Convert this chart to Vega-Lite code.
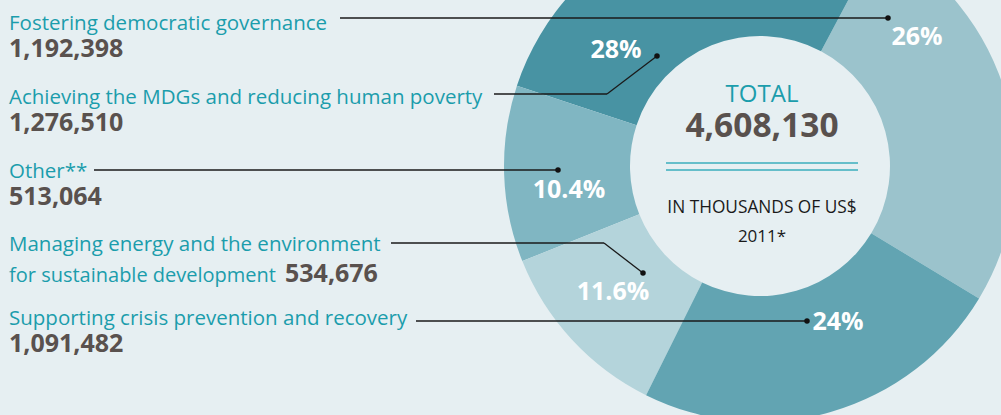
{
  "$schema": "https://vega.github.io/schema/vega-lite/v6.json",
  "width": 1001,
  "height": 415,
  "autosize": {"type": "none"},
  "padding": 0,
  "background": "#e6eff2",
  "config": {"view": {"stroke": null}, "text": {"font": "Open Sans"}},
  "datasets": {
    "segments": [
      {"cat": "Fostering", "name1": "Fostering democratic governance", "name2": "", "value": 1192398, "valueText": "1,192,398", "pct": "26%", "ord": 1},
      {"cat": "Achieving", "name1": "Achieving the MDGs and reducing human poverty", "name2": "", "value": 1276510, "valueText": "1,276,510", "pct": "28%", "ord": 5},
      {"cat": "Other", "name1": "Other**", "name2": "", "value": 513064, "valueText": "513,064", "pct": "10.4%", "ord": 4},
      {"cat": "Managing", "name1": "Managing energy and the environment", "name2": "for sustainable development", "value": 534676, "valueText": "534,676", "pct": "11.6%", "ord": 3},
      {"cat": "Crisis", "name1": "Supporting crisis prevention and recovery", "name2": "", "value": 1091482, "valueText": "1,091,482", "pct": "24%", "ord": 2}
    ]
  },
  "data": {"name": "segments"},
  "layer": [
    {
      "mark": {"type": "arc", "outerRadius": 256, "innerRadius": 130, "x": 760, "y": 166},
      "encoding": {
        "theta": {"field": "value", "type": "quantitative", "stack": true, "scale": {"range": [0.4887, 6.7719]}},
        "order": {"field": "ord", "type": "quantitative"},
        "color": {"field": "cat", "type": "nominal", "legend": null,
          "scale": {"domain": ["Fostering", "Crisis", "Managing", "Other", "Achieving"],
                    "range": ["#9bc3cc", "#62a4b2", "#b4d4db", "#80b6c2", "#4893a3"]}}
      }
    },
    {
      "mark": {"type": "text", "align": "left", "baseline": "alphabetic", "fontSize": 20.5, "color": "#1b9dac", "x": 9},
      "encoding": {
        "y": {"field": "cat", "type": "nominal", "axis": null,
          "scale": {"type": "point", "domain": ["Fostering", "Achieving", "Other", "Managing", "Crisis"], "range": [30, 325], "padding": 0}},
        "text": {"field": "name1", "type": "nominal"}
      }
    },
    {
      "transform": [{"filter": "datum.cat != 'Managing'"}],
      "mark": {"type": "text", "align": "left", "baseline": "alphabetic", "fontSize": 25, "fontWeight": "bold", "color": "#59514e", "x": 9, "dy": 27},
      "encoding": {
        "y": {"field": "cat", "type": "nominal", "axis": null},
        "text": {"field": "valueText", "type": "nominal"}
      }
    },
    {
      "transform": [{"filter": "datum.cat == 'Managing'"}],
      "mark": {"type": "text", "align": "left", "baseline": "alphabetic", "fontSize": 20, "color": "#1b9dac", "x": 9, "dy": 31},
      "encoding": {
        "y": {"field": "cat", "type": "nominal", "axis": null},
        "text": {"field": "name2", "type": "nominal"}
      }
    },
    {
      "transform": [{"filter": "datum.cat == 'Managing'"}],
      "mark": {"type": "text", "align": "left", "baseline": "alphabetic", "fontSize": 25, "fontWeight": "bold", "color": "#59514e", "x": 285, "dy": 31},
      "encoding": {
        "y": {"field": "cat", "type": "nominal", "axis": null},
        "text": {"field": "valueText", "type": "nominal"}
      }
    },
    {"data": {"values": [{}]}, "mark": {"type": "rule", "color": "#1a1a1a", "strokeWidth": 1.3},
     "encoding": {"x": {"value": 340}, "x2": {"value": 888}, "y": {"value": 18}, "y2": {"value": 18}}},
    {"data": {"values": [{}]}, "mark": {"type": "rule", "color": "#1a1a1a", "strokeWidth": 1.3},
     "encoding": {"x": {"value": 494}, "x2": {"value": 607}, "y": {"value": 94}, "y2": {"value": 94}}},
    {"data": {"values": [{}]}, "mark": {"type": "rule", "color": "#1a1a1a", "strokeWidth": 1.3},
     "encoding": {"x": {"value": 607}, "x2": {"value": 657}, "y": {"value": 94}, "y2": {"value": 56}}},
    {"data": {"values": [{}]}, "mark": {"type": "rule", "color": "#1a1a1a", "strokeWidth": 1.3},
     "encoding": {"x": {"value": 94}, "x2": {"value": 558}, "y": {"value": 170}, "y2": {"value": 170}}},
    {"data": {"values": [{}]}, "mark": {"type": "rule", "color": "#1a1a1a", "strokeWidth": 1.3},
     "encoding": {"x": {"value": 391}, "x2": {"value": 604}, "y": {"value": 243}, "y2": {"value": 243}}},
    {"data": {"values": [{}]}, "mark": {"type": "rule", "color": "#1a1a1a", "strokeWidth": 1.3},
     "encoding": {"x": {"value": 604}, "x2": {"value": 643}, "y": {"value": 243}, "y2": {"value": 273}}},
    {"data": {"values": [{}]}, "mark": {"type": "rule", "color": "#1a1a1a", "strokeWidth": 1.3},
     "encoding": {"x": {"value": 416}, "x2": {"value": 807}, "y": {"value": 321}, "y2": {"value": 321}}},
    {"data": {"values": [{}]}, "mark": {"type": "circle", "size": 30, "opacity": 1, "color": "#111111"},
     "encoding": {"x": {"value": 888}, "y": {"value": 18}}},
    {"data": {"values": [{}]}, "mark": {"type": "circle", "size": 30, "opacity": 1, "color": "#111111"},
     "encoding": {"x": {"value": 657}, "y": {"value": 56}}},
    {"data": {"values": [{}]}, "mark": {"type": "circle", "size": 30, "opacity": 1, "color": "#111111"},
     "encoding": {"x": {"value": 558}, "y": {"value": 170}}},
    {"data": {"values": [{}]}, "mark": {"type": "circle", "size": 30, "opacity": 1, "color": "#111111"},
     "encoding": {"x": {"value": 643}, "y": {"value": 273}}},
    {"data": {"values": [{}]}, "mark": {"type": "circle", "size": 30, "opacity": 1, "color": "#111111"},
     "encoding": {"x": {"value": 807}, "y": {"value": 321}}},
    {"transform": [{"filter": "datum.cat == 'Fostering'"}],
     "mark": {"type": "text", "align": "center", "baseline": "alphabetic", "fontSize": 25, "fontWeight": "bold", "color": "#ffffff", "x": 917, "y": 45},
     "encoding": {"text": {"field": "pct", "type": "nominal"}}},
    {"transform": [{"filter": "datum.cat == 'Achieving'"}],
     "mark": {"type": "text", "align": "center", "baseline": "alphabetic", "fontSize": 25, "fontWeight": "bold", "color": "#ffffff", "x": 616, "y": 58},
     "encoding": {"text": {"field": "pct", "type": "nominal"}}},
    {"transform": [{"filter": "datum.cat == 'Other'"}],
     "mark": {"type": "text", "align": "center", "baseline": "alphabetic", "fontSize": 25, "fontWeight": "bold", "color": "#ffffff", "x": 569, "y": 198},
     "encoding": {"text": {"field": "pct", "type": "nominal"}}},
    {"transform": [{"filter": "datum.cat == 'Managing'"}],
     "mark": {"type": "text", "align": "center", "baseline": "alphabetic", "fontSize": 25, "fontWeight": "bold", "color": "#ffffff", "x": 613, "y": 300},
     "encoding": {"text": {"field": "pct", "type": "nominal"}}},
    {"transform": [{"filter": "datum.cat == 'Crisis'"}],
     "mark": {"type": "text", "align": "center", "baseline": "alphabetic", "fontSize": 25, "fontWeight": "bold", "color": "#ffffff", "x": 838, "y": 330},
     "encoding": {"text": {"field": "pct", "type": "nominal"}}},
    {"data": {"values": [{}]},
     "mark": {"type": "text", "align": "center", "baseline": "alphabetic", "fontSize": 24, "color": "#1b9dac", "x": 762, "y": 102, "text": "TOTAL"},
     "encoding": {}},
    {"transform": [{"aggregate": [{"op": "sum", "field": "value", "as": "total"}]}],
     "mark": {"type": "text", "align": "center", "baseline": "alphabetic", "fontSize": 33.5, "fontWeight": "bold", "color": "#59514e", "x": 762, "y": 137},
     "encoding": {"text": {"field": "total", "type": "quantitative", "format": ","}}},
    {"data": {"values": [{}]}, "mark": {"type": "rule", "color": "#3aaebc", "strokeWidth": 1.5},
     "encoding": {"x": {"value": 666}, "x2": {"value": 858}, "y": {"value": 163}, "y2": {"value": 163}}},
    {"data": {"values": [{}]}, "mark": {"type": "rule", "color": "#3aaebc", "strokeWidth": 1.5},
     "encoding": {"x": {"value": 666}, "x2": {"value": 858}, "y": {"value": 170}, "y2": {"value": 170}}},
    {"data": {"values": [{}]},
     "mark": {"type": "text", "align": "center", "baseline": "alphabetic", "fontSize": 17.3, "color": "#1a1a1a", "x": 762, "y": 213, "text": "IN THOUSANDS OF US$"},
     "encoding": {}},
    {"data": {"values": [{}]},
     "mark": {"type": "text", "align": "center", "baseline": "alphabetic", "fontSize": 17, "color": "#1a1a1a", "x": 762, "y": 242, "text": "2011*"},
     "encoding": {}}
  ]
}
